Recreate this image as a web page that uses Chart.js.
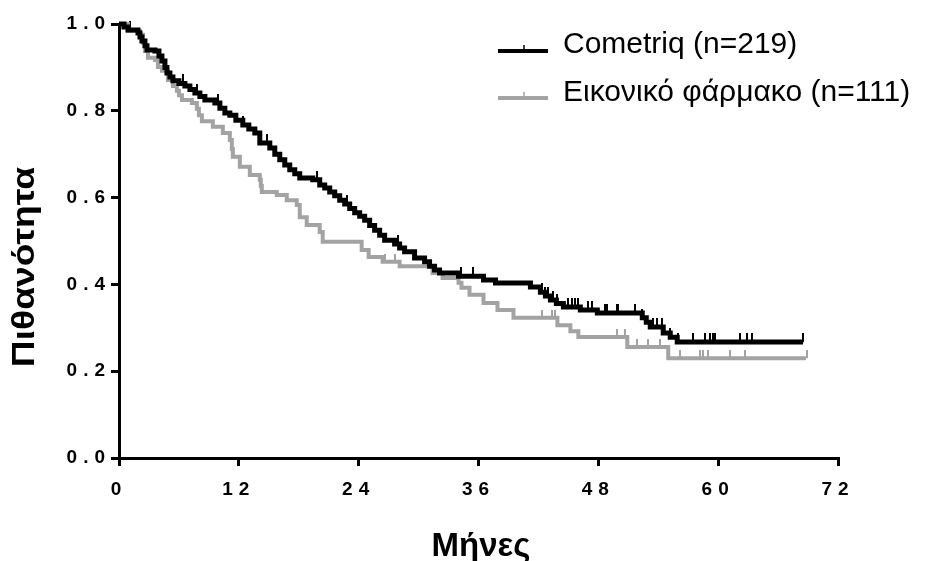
<!DOCTYPE html>
<html><head><meta charset="utf-8">
<script src="https://cdn.jsdelivr.net/npm/chart.js@4"></script>
<style>html,body{margin:0;padding:0;background:#fff;}#wrap{width:944px;height:561px;}</style>
</head><body><div id="wrap"><canvas id="c" width="944" height="561"></canvas></div>
<script>
// ---- data ----
const seriesNames = ['Cometriq (n=219)', 'Εικονικό φάρμακο (n=111)'];
const xTitle = 'Μήνες';
const yTitle = 'Πιθανότητα';
const xTicks = [0, 12, 24, 36, 48, 60, 72];
const yTicks = [0, 0.2, 0.4, 0.6, 0.8, 1.0];

// Cometriq: times (months) where the survival drops, and the new survival value
const cometriqTimes = [0, 0.5, 0.9, 1.9, 2.1, 2.3, 2.6, 2.8, 3.6, 4.0, 4.3, 4.6, 4.8, 5.1, 5.4, 6.0, 6.6, 7.1, 7.6, 8.1, 8.6, 9.6, 10.1, 10.6, 11.1, 11.7, 12.4, 13.0, 13.6, 14.1, 15.1, 15.6, 16.1, 16.6, 17.1, 17.6, 18.1, 19.4, 20.1, 20.6, 21.1, 21.6, 22.1, 22.6, 23.1, 23.6, 24.1, 24.6, 25.1, 25.6, 26.1, 26.6, 27.6, 28.1, 28.6, 29.6, 30.6, 31.1, 31.6, 32.1, 34.0, 36.5, 37.7, 41.2, 42.2, 42.7, 43.2, 43.8, 44.5, 46.2, 47.9, 52.4, 52.8, 53.2, 54.5, 55.2, 55.9, 68.5];
const cometriqSurv  = [1.0, 0.993, 0.986, 0.979, 0.970, 0.961, 0.950, 0.940, 0.938, 0.926, 0.915, 0.900, 0.887, 0.878, 0.869, 0.863, 0.857, 0.849, 0.841, 0.833, 0.825, 0.818, 0.806, 0.795, 0.790, 0.778, 0.767, 0.758, 0.749, 0.726, 0.714, 0.700, 0.687, 0.675, 0.664, 0.655, 0.645, 0.641, 0.629, 0.622, 0.613, 0.604, 0.594, 0.585, 0.575, 0.565, 0.557, 0.548, 0.536, 0.525, 0.513, 0.502, 0.493, 0.484, 0.475, 0.461, 0.452, 0.442, 0.433, 0.426, 0.419, 0.410, 0.403, 0.394, 0.382, 0.373, 0.364, 0.356, 0.348, 0.341, 0.334, 0.323, 0.313, 0.302, 0.288, 0.278, 0.267, 0.267];
const cometriqCensored = [1.1, 6.4, 7.8, 9.9, 12.4, 14.8, 19.8, 22.8, 27.9, 34.2, 35.4, 42.4, 42.7, 43.0, 43.5, 43.9, 45.0, 45.4, 45.7, 46.0, 47.0, 47.4, 48.7, 48.9, 49.9, 50.0, 51.7, 52.4, 53.5, 53.9, 54.4, 55.2, 56.0, 57.5, 58.7, 59.2, 59.5, 59.7, 62.2, 62.9, 63.4, 68.5];

// Placebo
const placeboTimes = [0, 0.9, 2.1, 2.4, 2.6, 2.9, 3.6, 3.9, 4.3, 4.9, 5.4, 5.8, 6.0, 6.3, 7.3, 7.8, 8.0, 8.3, 9.4, 10.4, 11.1, 11.3, 11.4, 12.1, 13.1, 14.1, 14.2, 14.3, 15.8, 16.8, 17.8, 18.1, 18.8, 20.1, 20.4, 24.3, 25.0, 26.4, 28.1, 31.4, 32.4, 34.0, 34.3, 35.1, 36.5, 37.9, 39.5, 43.9, 45.2, 46.0, 50.9, 55.0, 68.8];
const placeboSurv  = [1.0, 0.984, 0.975, 0.957, 0.938, 0.922, 0.917, 0.901, 0.892, 0.871, 0.857, 0.846, 0.836, 0.825, 0.818, 0.805, 0.790, 0.776, 0.763, 0.749, 0.733, 0.712, 0.694, 0.671, 0.652, 0.641, 0.627, 0.613, 0.606, 0.594, 0.583, 0.555, 0.537, 0.521, 0.498, 0.479, 0.463, 0.452, 0.442, 0.426, 0.415, 0.404, 0.392, 0.376, 0.357, 0.341, 0.323, 0.306, 0.292, 0.279, 0.256, 0.230, 0.230];
const placeboCensored = [26.6, 27.6, 42.4, 43.4, 43.7, 49.9, 50.7, 51.9, 53.0, 54.2, 56.2, 58.2, 58.5, 59.0, 61.2, 62.7, 68.9];

// ---- helpers ----
const BLACK = '#000000';
const GREY = '#a3a3a3';
function steps(times, surv) { return times.map((t, i) => ({x: t, y: surv[i]})); }
function survAt(times, surv, t) {
  let v = surv[0];
  for (let i = 0; i < times.length; i++) { if (times[i] <= t) v = surv[i]; else break; }
  return v;
}
function censorPoints(cens, times, surv) { return cens.map(t => ({x: t, y: survAt(times, surv, t)})); }
function tickImg(color, up, w) {
  const c = document.createElement('canvas');
  c.width = w; c.height = up * 2;
  const g = c.getContext('2d');
  g.fillStyle = color; g.fillRect(0, 0, w, up);
  return c;
}
const FONT = '"Liberation Sans", Arial, Helvetica, sans-serif';

const decor = {
  id: 'decor',
  beforeDraw(chart) { chart.ctx.letterSpacing = '6px'; },
  beforeDatasetsDraw(chart) { chart.ctx.letterSpacing = '0px'; },
  afterDraw(chart) {
    const ctx = chart.ctx, a = chart.chartArea;
    ctx.save();
    ctx.letterSpacing = '0px';
    ctx.fillStyle = '#000';
    // axis titles
    ctx.font = 'bold 33px ' + FONT;
    ctx.textAlign = 'center'; ctx.textBaseline = 'alphabetic';
    ctx.save(); ctx.translate(481, 556); ctx.scale(1.0, 1); ctx.fillText(xTitle, 0, 0); ctx.restore();
    ctx.font = 'bold 31px ' + FONT;
    ctx.save(); ctx.translate(34, 267); ctx.rotate(-Math.PI / 2); ctx.scale(1.2, 1); ctx.fillText(yTitle, 0, 0); ctx.restore();
    // legend
    const rows = [{c: BLACK, y: 51, t: 53}, {c: GREY, y: 98, t: 101}];
    chart.data.datasets.slice(0, 2).forEach((ds, i) => {
      const r = rows[i];
      ctx.strokeStyle = r.c; ctx.lineWidth = 4; ctx.lineCap = 'butt';
      ctx.beginPath(); ctx.moveTo(498, r.y); ctx.lineTo(548, r.y); ctx.stroke();
      ctx.lineWidth = 1.5;
      ctx.beginPath(); ctx.moveTo(524, r.y); ctx.lineTo(524, r.y - 6); ctx.stroke();
      ctx.fillStyle = '#000'; ctx.font = '30px ' + FONT; ctx.textAlign = 'left';
      ctx.fillText(ds.label, 563, r.t);
    });
    ctx.restore();
  }
};

new Chart(document.getElementById('c'), {
  type: 'line',
  data: {
    datasets: [
      {label: seriesNames[0], data: steps(cometriqTimes, cometriqSurv), borderColor: BLACK, borderWidth: 5, stepped: 'before', pointRadius: 0, fill: false, clip: false, borderJoinStyle: 'miter'},
      {label: seriesNames[1], data: steps(placeboTimes, placeboSurv), borderColor: GREY, borderWidth: 4, stepped: 'before', pointRadius: 0, fill: false, clip: false, borderJoinStyle: 'miter'},
      {label: 'c1', data: censorPoints(cometriqCensored, cometriqTimes, cometriqSurv), showLine: false, pointStyle: tickImg(BLACK, 9, 2), pointRadius: 5, clip: false},
      {label: 'c2', data: censorPoints(placeboCensored, placeboTimes, placeboSurv), showLine: false, pointStyle: tickImg(GREY, 8, 2), pointRadius: 5, clip: false}
    ]
  },
  options: {
    responsive: false, animation: false, events: [],
    layout: {padding: {top: 24, right: 106, left: 0, bottom: 0}},
    plugins: {legend: {display: false}, tooltip: {enabled: false}, title: {display: false}},
    scales: {
      x: {
        type: 'linear', min: 0, max: 72,
        afterFit(s) { s.height = 103; },
        afterBuildTicks(s) { s.ticks = xTicks.map(v => ({value: v})); },
        grid: {display: true, drawOnChartArea: false, drawTicks: true, tickLength: 8, lineWidth: 3, color: '#000'},
        border: {display: true, width: 3, color: '#000'},
        ticks: {color: '#000', font: {family: FONT, size: 19, weight: 'bold'}, padding: 12, maxRotation: 0, callback: v => String(v)}
      },
      y: {
        type: 'linear', min: 0, max: 1,
        afterFit(s) { s.width = 119; },
        afterBuildTicks(s) { s.ticks = yTicks.map(v => ({value: v})); },
        grid: {display: true, drawOnChartArea: false, drawTicks: true, tickLength: 8, lineWidth: 3, color: '#000'},
        border: {display: true, width: 3, color: '#000'},
        ticks: {color: '#000', font: {family: FONT, size: 19, weight: 'bold'}, padding: 0, callback: v => Number(v).toFixed(1)}
      }
    }
  },
  plugins: [decor]
});
</script></body></html>
